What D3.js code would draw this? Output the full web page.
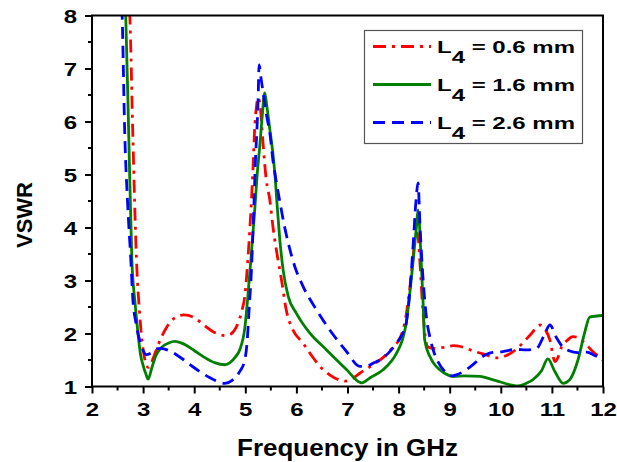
<!DOCTYPE html>
<html>
<head>
<meta charset="utf-8">
<script src="https://cdn.jsdelivr.net/npm/d3@7"></script>
<style>
  body { margin: 0; background: #fff; }
  text { font-family: "Liberation Sans", Arial, sans-serif; font-weight: bold; }
</style>
</head>
<body>
<div id="chart"></div>
<script>
// VSWR vs frequency for three values of L4
const xTicks = [2, 3, 4, 5, 6, 7, 8, 9, 10, 11, 12];
const yTicks = [1, 2, 3, 4, 5, 6, 7, 8];
const seriesNames = ["0.6 mm", "1.6 mm", "2.6 mm"];

// L4 = 0.6 mm  [GHz, VSWR]
const vswr06 = [
  [2.71, 8.6], [2.74, 8.0], [2.80, 5.7], [2.87, 3.4], [2.93, 2.4], [3.0, 1.7], [3.06, 1.42],
  [3.10, 1.36], [3.16, 1.45], [3.3, 1.8], [3.45, 2.1], [3.6, 2.28], [3.8, 2.35], [4.0, 2.3],
  [4.2, 2.15], [4.4, 2.02], [4.6, 1.96], [4.7, 1.98], [4.8, 2.08], [4.86, 2.2], [4.93, 2.42],
  [4.99, 2.7], [5.05, 3.39], [5.09, 4.0], [5.12, 4.5], [5.15, 5.1], [5.18, 5.8], [5.22, 6.3],
  [5.25, 6.45], [5.29, 6.3], [5.35, 5.55], [5.41, 4.9], [5.48, 4.52], [5.54, 4.02], [5.64, 3.39],
  [5.71, 3.0], [5.80, 2.45], [5.93, 2.07], [6.13, 1.82], [6.3, 1.58], [6.46, 1.38], [6.65, 1.22],
  [6.85, 1.12], [6.95, 1.1], [7.1, 1.15], [7.24, 1.25], [7.45, 1.38], [7.7, 1.55], [7.9, 1.75],
  [8.02, 1.9], [8.12, 2.2], [8.2, 2.7], [8.27, 3.3], [8.33, 3.85], [8.37, 3.9], [8.42, 3.3],
  [8.47, 2.5], [8.52, 1.95], [8.57, 1.75], [8.67, 1.72], [8.9, 1.74], [9.07, 1.77], [9.23, 1.75],
  [9.49, 1.66], [9.7, 1.6], [9.91, 1.54], [10.1, 1.58], [10.3, 1.7], [10.43, 1.82], [10.6, 2.0],
  [10.76, 2.16], [10.85, 2.1], [10.96, 1.88], [11.06, 1.47], [11.12, 1.55], [11.19, 1.75],
  [11.3, 1.87], [11.41, 1.94], [11.5, 1.93], [11.61, 1.85], [11.8, 1.66], [12.0, 1.5]
];

// L4 = 1.6 mm
const vswr16 = [
  [2.64, 8.5], [2.66, 8.0], [2.72, 5.7], [2.78, 3.39], [2.84, 2.6], [2.9, 2.0], [2.95, 1.6],
  [3.0, 1.4], [3.05, 1.25], [3.1, 1.14], [3.17, 1.35], [3.25, 1.58], [3.35, 1.73], [3.5, 1.82],
  [3.62, 1.85], [3.8, 1.8], [4.0, 1.68], [4.2, 1.55], [4.4, 1.45], [4.6, 1.41], [4.7, 1.45],
  [4.8, 1.55], [4.89, 1.69], [4.99, 2.1], [5.05, 2.7], [5.12, 3.52], [5.18, 4.27], [5.24, 5.09],
  [5.28, 5.5], [5.33, 6.09], [5.38, 6.54], [5.42, 6.3], [5.48, 5.85], [5.54, 5.4], [5.58, 5.0],
  [5.62, 4.46], [5.67, 3.83], [5.74, 3.2], [5.84, 2.7], [6.0, 2.38], [6.26, 2.01], [6.59, 1.69],
  [6.98, 1.32], [7.24, 1.08], [7.28, 1.07], [7.45, 1.17], [7.69, 1.31], [7.96, 1.63], [8.08, 1.9],
  [8.15, 2.2], [8.22, 2.76], [8.28, 3.33], [8.35, 4.02], [8.38, 4.33], [8.45, 3.2], [8.48, 2.57],
  [8.51, 1.88], [8.61, 1.57], [8.7, 1.42], [8.8, 1.32], [8.9, 1.25], [9.07, 1.19], [9.3, 1.2],
  [9.59, 1.19], [9.8, 1.14], [9.98, 1.09], [10.15, 1.04], [10.34, 1.01], [10.5, 1.06],
  [10.63, 1.13], [10.8, 1.3], [10.92, 1.52], [11.06, 1.28], [11.22, 1.06], [11.35, 1.13],
  [11.51, 1.5], [11.64, 2.01], [11.74, 2.31], [12.0, 2.34]
];

// L4 = 2.6 mm
const vswr26 = [
  [2.57, 8.5], [2.59, 8.0], [2.64, 5.8], [2.70, 4.4], [2.76, 3.39], [2.80, 2.64], [2.86, 2.2],
  [2.93, 1.88], [3.0, 1.68], [3.06, 1.6], [3.15, 1.63], [3.26, 1.71], [3.35, 1.72], [3.5, 1.68],
  [3.65, 1.6], [3.8, 1.5], [3.95, 1.39], [4.11, 1.28], [4.3, 1.17], [4.45, 1.1], [4.6, 1.06],
  [4.75, 1.12], [4.89, 1.28], [4.99, 1.5], [5.04, 1.9], [5.07, 2.38], [5.12, 3.2], [5.17, 4.46],
  [5.2, 5.3], [5.23, 5.9], [5.25, 6.4], [5.27, 7.07], [5.31, 6.8], [5.35, 6.54], [5.42, 6.1],
  [5.48, 5.78], [5.55, 5.2], [5.59, 4.96], [5.67, 4.52], [5.75, 4.1], [5.84, 3.71], [5.97, 3.26],
  [6.13, 2.89], [6.39, 2.45], [6.65, 2.07], [6.98, 1.66], [7.24, 1.38], [7.37, 1.38], [7.5, 1.44],
  [7.63, 1.5], [7.8, 1.63], [7.96, 1.82], [8.08, 2.0], [8.15, 2.2], [8.22, 2.8], [8.28, 3.6],
  [8.34, 4.5], [8.38, 4.84], [8.42, 4.0], [8.48, 3.01], [8.55, 2.26], [8.61, 1.94], [8.69, 1.65],
  [8.77, 1.47], [8.94, 1.25], [9.05, 1.2], [9.13, 1.22], [9.3, 1.3], [9.5, 1.45], [9.65, 1.57],
  [9.78, 1.63], [10.04, 1.66], [10.3, 1.7], [10.5, 1.69], [10.7, 1.72], [10.85, 1.97],
  [10.96, 2.16], [11.09, 1.92], [11.22, 1.74], [11.35, 1.67], [11.5, 1.64], [11.68, 1.65],
  [11.85, 1.58], [12.0, 1.52]
];

const width = 617, height = 462;
const margin = { left: 92, right: 14, top: 15.5, bottom: 75.5 };
const stretch = 1.3; // the original lettering is wide, so stretch glyphs sideways

const svg = d3.select("#chart")
  .append("svg")
  .attr("width", width)
  .attr("height", height);

const x = d3.scaleLinear().domain([2, 12]).range([margin.left, width - margin.right]);
const y = d3.scaleLinear().domain([1, 8]).range([height - margin.bottom, margin.top]);

// clip the curves to the plot box
svg.append("clipPath").attr("id", "clip")
  .append("rect")
  .attr("x", x(2)).attr("y", y(8))
  .attr("width", x(12) - x(2)).attr("height", y(1) - y(8));

// minor ticks at the halves
const xMinor = d3.range(2.5, 12, 1);
const yMinor = d3.range(1.5, 8, 1);

const xAxis = svg.append("g")
  .attr("transform", `translate(0,${y(1)})`)
  .call(d3.axisBottom(x).tickValues(xTicks).tickSize(7).tickFormat(d3.format("d")));
xAxis.select(".domain").remove();
xAxis.selectAll(".tick line").attr("stroke", "#000").attr("stroke-width", 2);
xAxis.selectAll(".tick text")
  .attr("y", 30).attr("dy", 0)
  .attr("transform", `scale(${stretch},1)`)
  .style("font-size", "18.5px").attr("fill", "#000");

svg.append("g").selectAll("line")
  .data(xMinor).enter().append("line")
  .attr("x1", d => x(d)).attr("x2", d => x(d))
  .attr("y1", y(1)).attr("y2", y(1) + 4)
  .attr("stroke", "#000").attr("stroke-width", 2);

const yAxis = svg.append("g")
  .attr("transform", `translate(${x(2)},0)`)
  .call(d3.axisLeft(y).tickValues(yTicks).tickSize(7).tickFormat(d3.format("d")));
yAxis.select(".domain").remove();
yAxis.selectAll(".tick line").attr("stroke", "#000").attr("stroke-width", 2);
yAxis.selectAll(".tick text")
  .attr("x", -15 / stretch).attr("dy", "0.36em")
  .attr("transform", `scale(${stretch},1)`)
  .style("font-size", "18.5px").attr("fill", "#000");

svg.append("g").selectAll("line")
  .data(yMinor).enter().append("line")
  .attr("x1", x(2) - 4).attr("x2", x(2))
  .attr("y1", d => y(d)).attr("y2", d => y(d))
  .attr("stroke", "#000").attr("stroke-width", 2);

// the curves
const line = d3.line()
  .x(d => x(d[0]))
  .y(d => y(d[1]))
  .curve(d3.curveMonotoneX);

const series = [
  { data: vswr06, color: "#ff0000", dash: "13,6,3,6" },
  { data: vswr16, color: "#008000", dash: null },
  { data: vswr26, color: "#0000ff", dash: "12,7" }
];

svg.append("g")
  .attr("clip-path", "url(#clip)")
  .selectAll("path")
  .data(series)
  .enter()
  .append("path")
  .attr("d", d => line(d.data))
  .attr("fill", "none")
  .attr("stroke", d => d.color)
  .attr("stroke-width", 2.8)
  .attr("stroke-dasharray", d => d.dash);

// frame
svg.append("rect")
  .attr("x", x(2)).attr("y", y(8))
  .attr("width", x(12) - x(2)).attr("height", y(1) - y(8))
  .attr("fill", "none")
  .attr("stroke", "#000")
  .attr("stroke-width", 2);

// axis titles
svg.append("text")
  .attr("x", (x(2) + x(12)) / 2)
  .attr("y", 456)
  .attr("text-anchor", "middle")
  .attr("textLength", 221)
  .attr("lengthAdjust", "spacingAndGlyphs")
  .style("font-size", "23px")
  .text("Frequency in GHz");

svg.append("text")
  .attr("transform", "translate(32,215) rotate(-90)")
  .attr("text-anchor", "middle")
  .style("font-size", "22px")
  .text("VSWR");

// legend
const legend = svg.append("g");
legend.append("rect")
  .attr("x", 364.5).attr("y", 30.5)
  .attr("width", 218).attr("height", 113)
  .attr("fill", "#fff")
  .attr("stroke", "#555")
  .attr("stroke-width", 1.2);

const rows = legend.selectAll("g.row")
  .data(series)
  .enter()
  .append("g")
  .attr("class", "row")
  .attr("transform", (d, i) => `translate(0,${46.5 + i * 38})`);

rows.append("line")
  .attr("x1", 373).attr("x2", 431)
  .attr("stroke", d => d.color)
  .attr("stroke-width", 2.8)
  .attr("stroke-dasharray", d => d.dash);

const label = rows.append("text")
  .attr("x", 437)
  .attr("y", 6.8)
  .attr("textLength", 138)
  .attr("lengthAdjust", "spacingAndGlyphs")
  .style("font-size", "16.5px");
label.append("tspan").text("L");
label.append("tspan").attr("dy", 10).text("4");
label.append("tspan").attr("dy", -10).text((d, i) => " = " + seriesNames[i]);
</script>
</body>
</html>
